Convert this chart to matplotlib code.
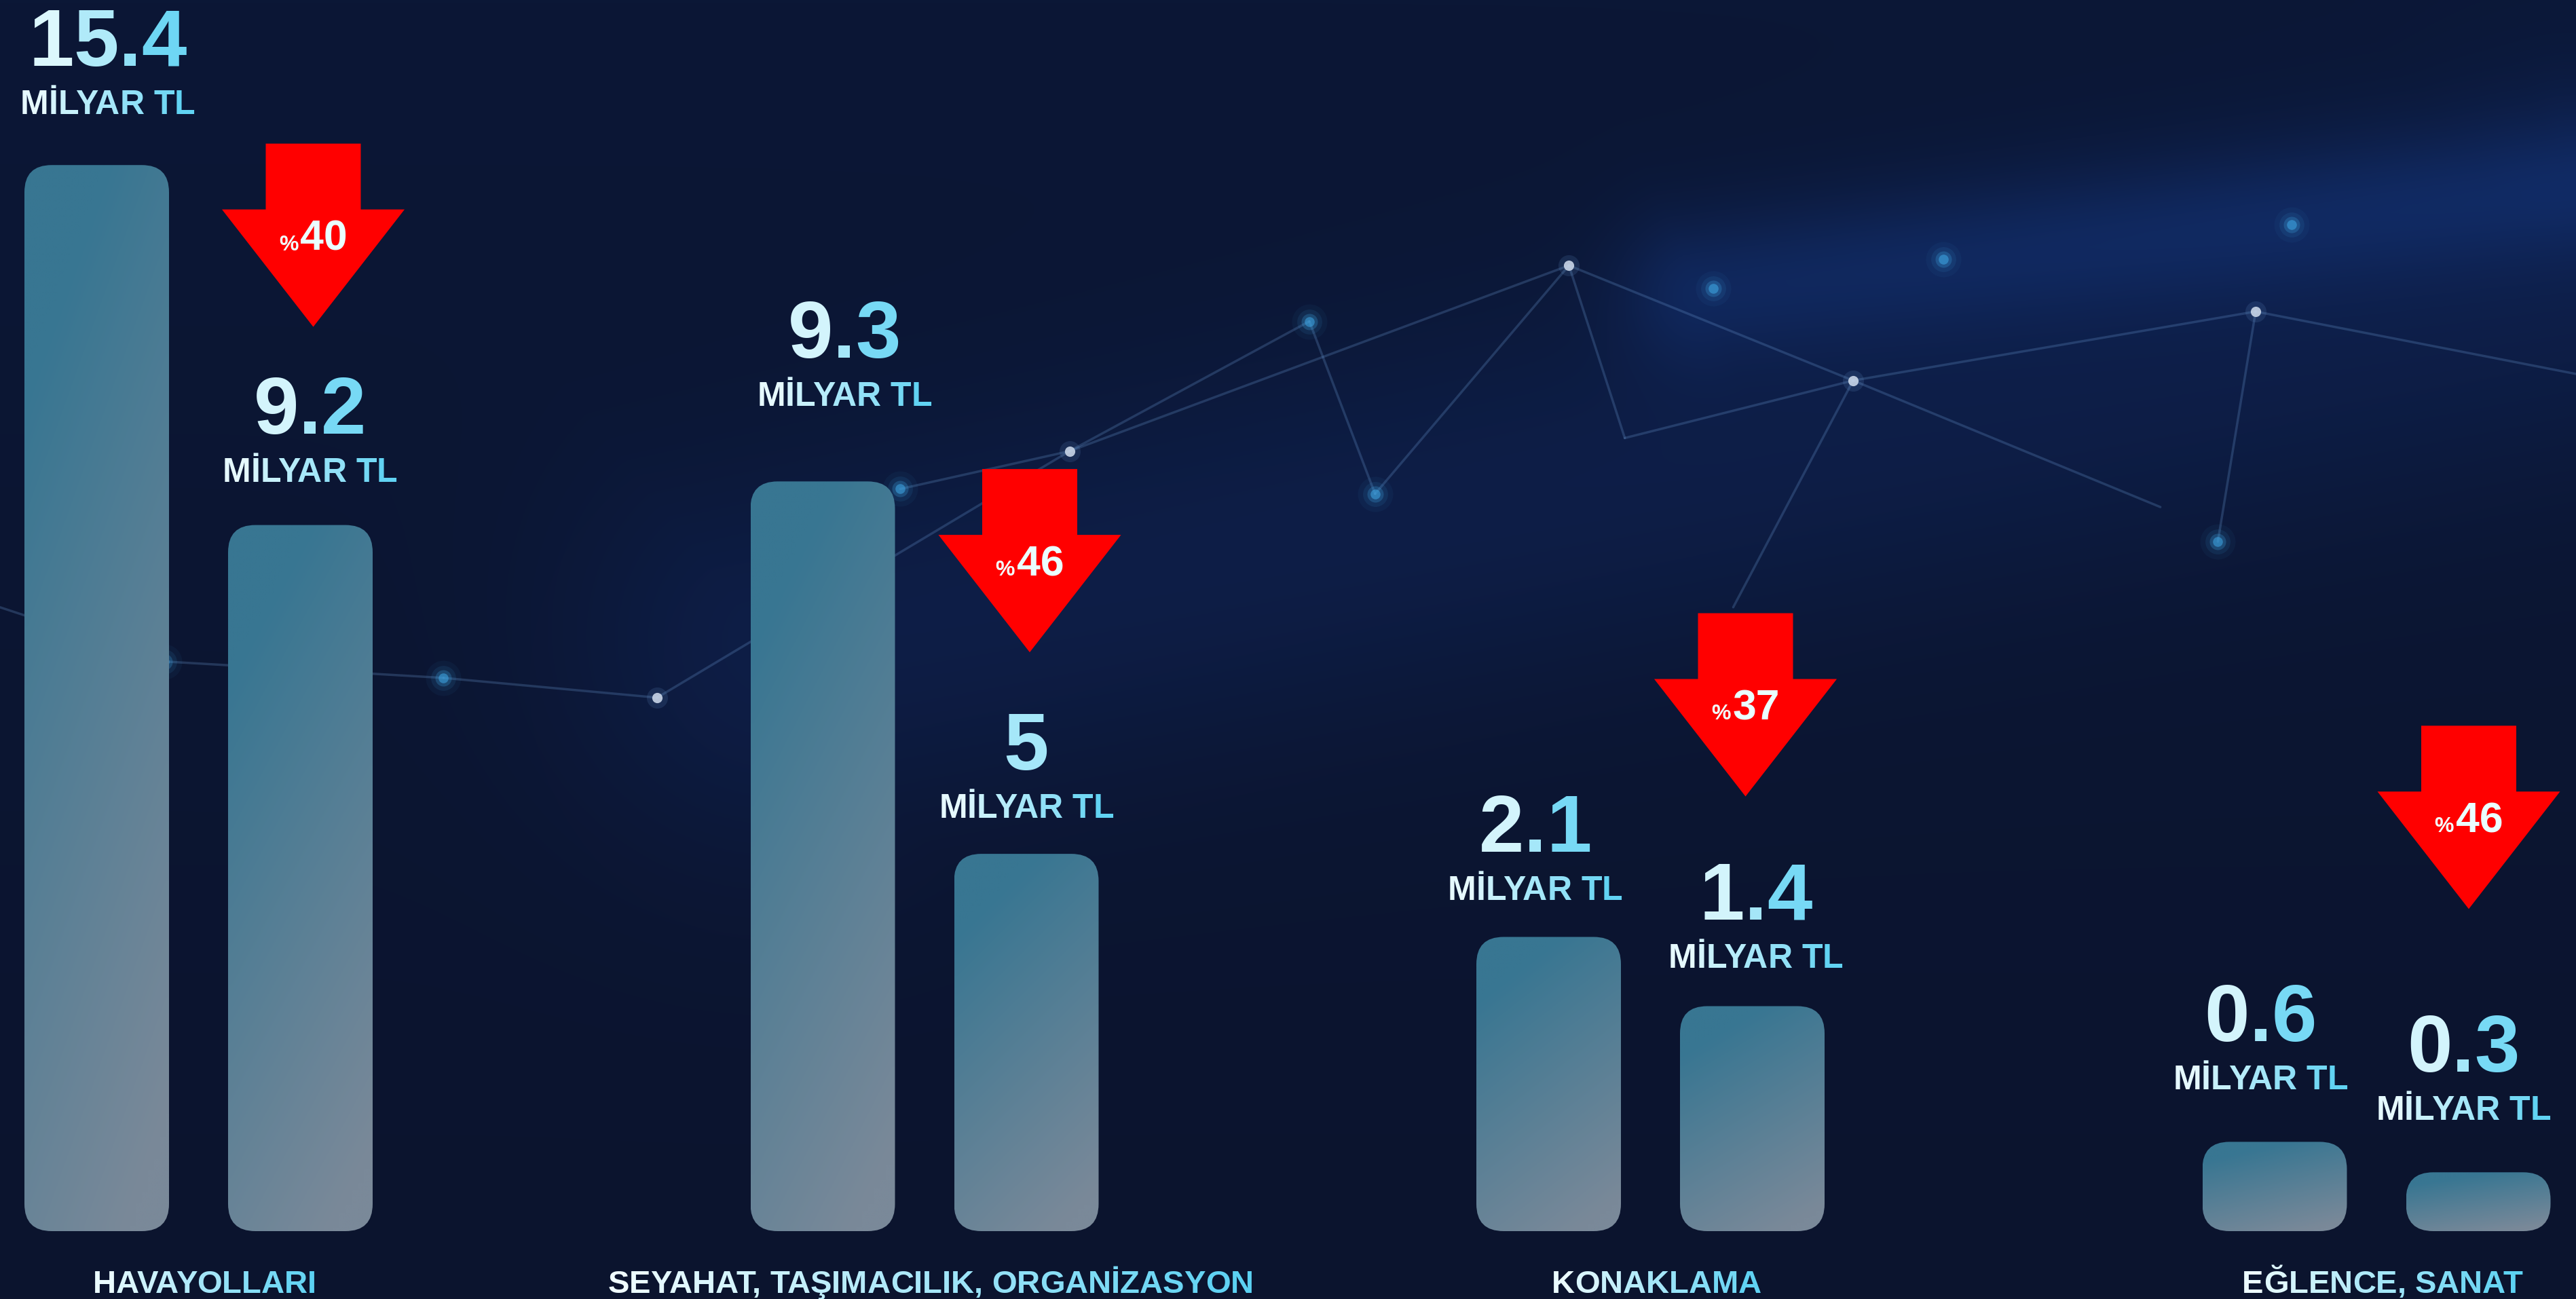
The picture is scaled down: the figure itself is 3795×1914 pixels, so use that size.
import numpy as np
import matplotlib
matplotlib.use("Agg")
import matplotlib.pyplot as plt
from matplotlib.patches import FancyBboxPatch, Polygon
from matplotlib.font_manager import FontProperties
from matplotlib.transforms import offset_copy
from matplotlib.colors import to_rgb

# --- veriler ---
categories = ["HAVAYOLLARI", "SEYAHAT, TAŞIMACILIK, ORGANİZASYON", "KONAKLAMA", "EĞLENCE, SANAT"]
before = [15.4, 9.3, 2.1, 0.6]      # milyar TL
after = [9.2, 5, 1.4, 0.3]          # milyar TL
drop_pct = [40, 46, 37, 46]
# bar lengths as drawn in the infographic (it is not drawn to scale)
bar_before = [15.4, 10.83, 4.25, 1.29]
bar_after = [10.2, 5.45, 3.25, 0.85]
unit = "MİLYAR TL"

# --- layout, in pixels of the 3795x1915 canvas ---
W, H, DPI = 3795, 1915, 100
PXX, PXY = 1069.5, 102.0        # pixels per x unit / per y unit
X0PX, Y0PX = 292.5, 100.0       # first group centre / bar base from bottom
BAR_OFF, BAR_W, RADIUS = 150, 213, 40
label_gap = [76, 65, 112, 54, 55, 57, 78, 78]      # bar top -> unit baseline
label_dx = [16, 14, 32, 0, -20, 5, -21, -22]
num_lift = 71                                      # unit baseline -> number baseline
arrow_dx = [19, 5, -10, -14]
arrow_lift = [562, 567, 579, 658]                  # after-bar top -> arrow top
SHAFT_W, HEAD_W, HEAD_Y, ARROW_H = 140, 269, 97, 270

TEAL = np.array(to_rgb("#387692"))
GREY = np.array(to_rgb("#7a8999"))
LIGHT = np.array(to_rgb("#f2fdff"))
CYAN = np.array(to_rgb("#58d0f2"))
FONT = ["Liberation Sans", "DejaVu Sans"]

fig = plt.figure(figsize=(W / DPI, H / DPI), dpi=DPI)
ax = fig.add_axes([0, 0, 1, 1])
ax.set_axis_off()
xlim = (-X0PX / PXX, (W - X0PX) / PXX)
ylim = (-Y0PX / PXY, (H - Y0PX) / PXY)


def px_x(p):
    return p / PXX


def px_y(p):
    return p / PXY


# arka plan: koyu lacivert + hafif mavi parlama
ny, nx = 192, 380
yy, xx = np.mgrid[0:1:ny * 1j, 0:1:nx * 1j]
top_c = np.array([11, 23, 54]) / 255
bot_c = np.array([12, 20, 46]) / 255
bg = top_c * (1 - yy[..., None]) + bot_c * yy[..., None]


def seg_dist(x1, y1, x2, y2):
    vx, vy = x2 - x1, y2 - y1
    t = np.clip(((xx - x1) * vx + (yy - y1) * vy) / (vx * vx + vy * vy), 0, 1)
    return np.hypot((xx - (x1 + t * vx)) * 2.0, yy - (y1 + t * vy))


glow = np.exp(-(seg_dist(0.30, 0.50, 1.0, 0.22) / 0.16) ** 2)
glow2 = np.exp(-(seg_dist(0.66, 0.22, 1.0, 0.14) / 0.06) ** 2)
bg = bg + glow[..., None] * np.array([2, 8, 20]) / 255
bg = bg + glow2[..., None] * np.array([4, 14, 32]) / 255
ax.imshow(np.clip(bg, 0, 1), extent=[*xlim, *ylim], aspect="auto",
          interpolation="bilinear", zorder=0)

# ağ çizgileri (dekor), koordinatlar resmin oranı olarak
S = (1568.0, 791.0)
nodes = {"a": (100, 403), "b": (270, 413), "c": (400, 425), "d": (548, 298),
         "e": (651, 275), "f": (797, 196), "g": (837, 301), "h": (955, 162),
         "i": (1043, 176), "j": (1128, 232), "k": (1183, 158), "l": (1373, 190),
         "m": (1350, 330), "n": (1395, 137), "L0": (0, 370), "R0": (1568, 228),
         "p": (989, 267), "q": (1055, 370), "r": (1315, 309)}
edges = [("L0", "a"), ("a", "b"), ("b", "c"), ("c", "e"), ("e", "h"), ("h", "j"),
         ("j", "l"), ("l", "R0"), ("e", "f"), ("f", "g"), ("h", "g"), ("h", "p"),
         ("j", "q"), ("j", "r"), ("j", "p"), ("l", "m"), ("d", "e")]


def nf(k):
    x, y = nodes[k]
    return x / S[0], 1 - y / S[1]


for a, b in edges:
    (x1, y1), (x2, y2) = nf(a), nf(b)
    ax.plot([x1, x2], [y1, y2], transform=ax.transAxes, color="#6f9fd8",
            alpha=0.25, lw=2.5, zorder=1, solid_capstyle="round")
for k in ["a", "b", "d", "f", "g", "i", "k", "m", "n"]:
    x, y = nf(k)
    for s, al in [(1400, 0.05), (700, 0.1), (300, 0.25), (110, 0.55)]:
        ax.scatter([x], [y], s=s, color="#3fa8e6", alpha=al, lw=0,
                   transform=ax.transAxes, zorder=1)
for k in ["c", "e", "h", "j", "l"]:
    x, y = nf(k)
    ax.scatter([x], [y], s=500, color="#6f9fd8", alpha=0.15, lw=0,
               transform=ax.transAxes, zorder=1)
    ax.scatter([x], [y], s=120, color="#c9d6e8", alpha=0.9, lw=0,
               transform=ax.transAxes, zorder=1)

renderer = fig.canvas.get_renderer()


def text_w(s, fp):
    return renderer.get_text_width_height_descent(s, fp, ismath=False)[0]


def grad_text(x, y, s, size, c0=LIGHT, c1=CYAN):
    fp = FontProperties(family=FONT, weight="bold", size=size)
    total = text_w(s, fp)
    for i, ch in enumerate(s):
        if ch == " ":
            continue
        wch = text_w(ch, fp)
        left = text_w(s[:i + 1], fp) - wch
        f = (left + wch / 2) / total
        col = np.clip(c0 * (1 - f) + c1 * f, 0, 1)
        tr = offset_copy(ax.transData, fig=fig, x=(left - total / 2) * 72 / DPI,
                         y=0, units="points")
        ax.text(x, y, ch, transform=tr, fontproperties=fp, color=col,
                ha="left", va="baseline", zorder=6)


def pct_text(x, y, pct):
    fp1 = FontProperties(family=FONT, weight="bold", size=23)
    fp2 = FontProperties(family=FONT, weight="bold", size=45)
    w1, w2, gap = text_w("%", fp1), text_w(str(pct), fp2), 3
    start = -(w1 + w2 + gap) / 2
    tr1 = offset_copy(ax.transData, fig=fig, x=start * 72 / DPI, y=0, units="points")
    tr2 = offset_copy(ax.transData, fig=fig, x=(start + w1 + gap) * 72 / DPI, y=0,
                      units="points")
    ax.text(x, y, "%", transform=tr1, fontproperties=fp1, color="#f4ffff",
            ha="left", va="baseline", zorder=6)
    ax.text(x, y, str(pct), transform=tr2, fontproperties=fp2, color="#eafeff",
            ha="left", va="baseline", zorder=6)


def grad_bar(xc, h):
    x0 = xc - px_x(BAR_W) / 2
    patch = FancyBboxPatch((x0, 0), px_x(BAR_W), h,
                           boxstyle=f"round,pad=0,rounding_size={px_x(RADIUS)}",
                           mutation_aspect=PXX / PXY, facecolor="none",
                           edgecolor="none", zorder=3)
    ax.add_patch(patch)
    v, u = np.mgrid[0:1:96j, 0:1:24j]
    t = np.clip(0.95 * v + 0.35 * u - 0.2, 0, 1)
    img = TEAL * (1 - t[..., None]) + GREY * t[..., None]
    im = ax.imshow(img, extent=[x0, x0 + px_x(BAR_W), 0, h], aspect="auto",
                   interpolation="bilinear", zorder=3)
    im.set_clip_path(patch)


k = 0
for g in range(len(categories)):
    pair = [(g - px_x(BAR_OFF), bar_before[g], before[g]),
            (g + px_x(BAR_OFF), bar_after[g], after[g])]
    for xc, h, val in pair:
        grad_bar(xc, h)
        xl = xc + px_x(label_dx[k])
        yb = h + px_y(label_gap[k])
        grad_text(xl, yb, unit, 36)
        grad_text(xl, yb + px_y(num_lift), f"{val:g}", 86)
        k += 1

    # kırmızı düşüş oku
    xa = g + px_x(BAR_OFF) + px_x(arrow_dx[g])
    ytop = bar_after[g] + px_y(arrow_lift[g])
    yh = ytop - px_y(HEAD_Y)
    ytip = ytop - px_y(ARROW_H)
    sw, hw = px_x(SHAFT_W) / 2, px_x(HEAD_W) / 2
    verts = [(xa - sw, ytop), (xa + sw, ytop), (xa + sw, yh), (xa + hw, yh),
             (xa, ytip), (xa - hw, yh), (xa - sw, yh)]
    ax.add_patch(Polygon(verts, closed=True, facecolor="#ff0000",
                         edgecolor="none", zorder=4))
    pct_text(xa, yh - px_y(59), drop_pct[g])

    # kategori etiketi
    grad_text(g + px_x(9), -px_y(90), categories[g], 34)

ax.set_xlim(*xlim)
ax.set_ylim(*ylim)
fig.savefig("out.png", dpi=DPI)
